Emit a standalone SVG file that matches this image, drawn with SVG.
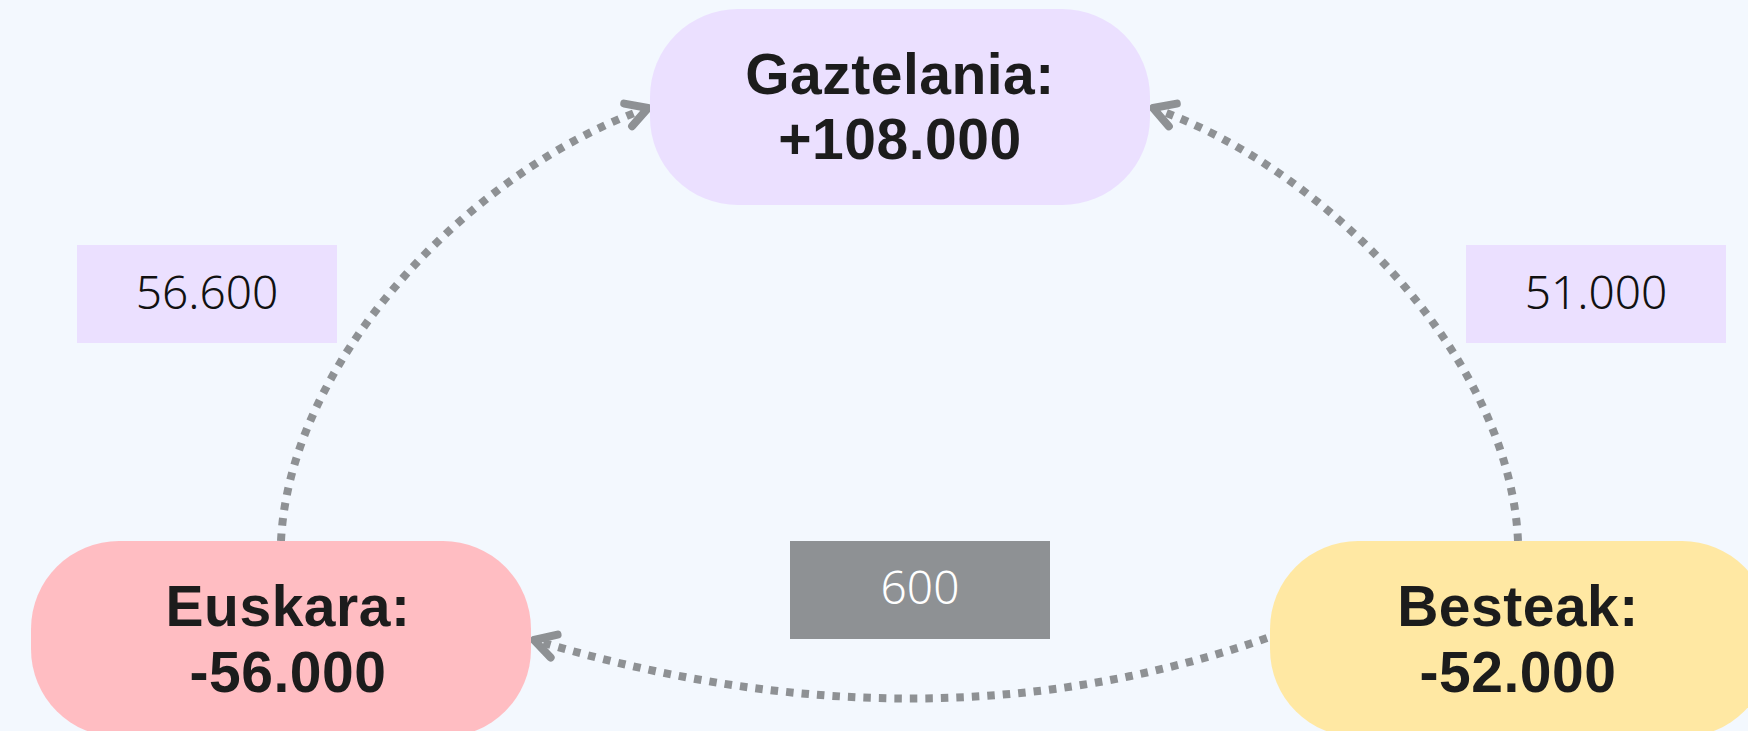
<svg xmlns="http://www.w3.org/2000/svg" width="1748" height="731" viewBox="0 0 1748 731">
<style>
.node-text{font-family:"Liberation Sans",Arial,sans-serif;font-weight:700;font-size:57px;letter-spacing:0.5px;fill:#1c1c1c;text-anchor:middle}
.lbl{font-family:"Noto Sans","DejaVu Sans",sans-serif;font-weight:300;font-size:46px;text-anchor:middle}
.conn{fill:none;stroke:#8e9194;stroke-width:8;stroke-dasharray:7.5 8;marker-end:url(#arr)}
</style>
<defs>
<marker id="arr" markerUnits="userSpaceOnUse" markerWidth="40" markerHeight="40" viewBox="-30 -20 40 40" refX="0" refY="0" orient="auto" overflow="visible">
<path d="M-21,-12 L0,0 L-21,12" fill="none" stroke="#8e9194" stroke-width="8" stroke-linecap="round" stroke-linejoin="round"/>
</marker>
</defs>
<rect width="1748" height="731" fill="#f3f8fe"/>
<g id="connectors">
<path class="conn" d="M281,541 C290,360 470,170 648,108"/>
<path class="conn" d="M1518,541 C1510,360 1330,170 1153,108"/>
<path class="conn" d="M1267,638 Q925,758 534,640"/>
</g>
<g id="node-gaztelania">
<rect x="650" y="9" width="500" height="196" rx="88" ry="88" fill="#ebe0ff"/>
<text class="node-text" x="900" y="94">Gaztelania:</text>
<text class="node-text" x="900" y="159">+108.000</text>
</g>
<g id="node-euskara">
<rect x="31" y="541" width="500" height="196" rx="88" ry="88" fill="#ffbdc2"/>
<text class="node-text" x="288" y="626">Euskara:</text>
<text class="node-text" x="288" y="692">-56.000</text>
</g>
<g id="node-besteak">
<rect x="1270" y="541" width="500" height="196" rx="88" ry="88" fill="#ffe8a3"/>
<text class="node-text" x="1518" y="626">Besteak:</text>
<text class="node-text" x="1518" y="692">-52.000</text>
</g>
<g id="label-56600">
<rect x="77" y="245" width="260" height="98" fill="#ebe0ff"/>
<text class="lbl" x="207" y="309" fill="#111">56.600</text>
</g>
<g id="label-51000">
<rect x="1466" y="245" width="260" height="98" fill="#ebe0ff"/>
<text class="lbl" x="1596" y="309" fill="#111">51.000</text>
</g>
<g id="label-600">
<rect x="790" y="541" width="260" height="98" fill="#8e9194"/>
<text class="lbl" x="920" y="604" fill="#ffffff">600</text>
</g>
</svg>
